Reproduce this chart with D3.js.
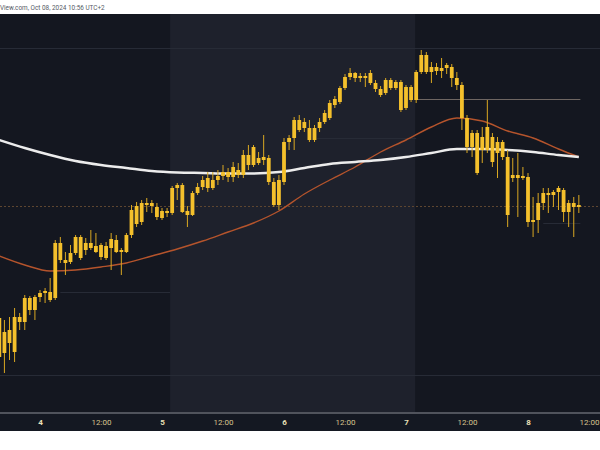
<!DOCTYPE html>
<html><head><meta charset="utf-8">
<script src="https://cdn.jsdelivr.net/npm/d3@7"></script>
<style>html,body{margin:0;padding:0;background:#fff;}svg{display:block}</style>
</head><body><svg id="c" width="600" height="450"></svg>
<script>
// hourly candles, index 0 = Oct 3 16:00 (UTC+2)
const opens  = [60930,61180,61070,60980,61330,61280,61520,61400,61530,61570,61580,61520,62070,61900,61880,61970,62130,62000,62070,62040,62050,61920,62020,62100,61980,61980,62150,62440,62280,62470,62440,62430,62320,62390,62370,62620,62650,62390,62350,62570,62630,62720,62620,62700,62740,62780,62730,62800,62750,62950,62850,62920,62900,62920,62680,62450,62680,63080,63120,63300,63220,63220,63100,63220,63280,63320,63450,63480,63620,63730,63770,63720,63740,63770,63670,63610,63570,63700,63620,63680,63420,63630,63500,63780,63950,63780,63830,63790,63820,63830,63720,63650,63320,63030,63170,63000,63000,63130,62970,63080,62930,62720,62750,62720,62730,62280,62300,62470,62570,62550,62580,62600,62380,62470,62430];
const highs  = [61450,61300,61330,61420,61370,61550,61540,61550,61600,61620,61720,62100,62130,61980,62050,62150,62150,62120,62200,62170,62070,62080,62170,62150,62020,62170,62450,62480,62500,62520,62500,62470,62420,62420,62640,62670,62670,62440,62590,62670,62740,62780,62780,62800,62850,62820,62880,62870,63000,63050,63050,62980,63150,62950,62720,62750,63120,63150,63330,63350,63320,63300,63250,63320,63400,63500,63540,63640,63760,63820,63780,63770,63770,63800,63700,63640,63720,63720,63700,63700,63650,63650,63800,64000,63980,63880,63870,63920,63870,63860,63780,63680,63350,63200,63200,63230,63500,63170,63130,63100,63000,62920,62970,62830,62770,62530,62570,62620,62620,62600,62640,62620,62500,62530,62550];
const lows   = [60880,60770,60900,60880,61200,61200,61350,61300,61480,61470,61480,61500,61870,61750,61860,61950,61900,61950,62000,61970,61900,61900,61800,61970,61750,61970,62120,62230,62250,62380,62370,62300,62300,62330,62350,62500,62370,62230,62340,62550,62600,62580,62600,62650,62700,62680,62680,62720,62720,62800,62830,62850,62850,62650,62430,62400,62650,63000,63000,63180,63180,63080,63080,63180,63260,63300,63420,63460,63600,63700,63680,63680,63630,63650,63580,63530,63550,63600,63600,63380,63400,63480,63470,63760,63760,63670,63750,63720,63760,63630,63600,63200,62970,62930,62750,62870,62970,62830,62720,62900,62230,62680,62330,62700,62230,62130,62170,62400,62370,62430,62400,62280,62230,62130,62370];
const closes = [61320,60970,61200,61330,61280,61520,61400,61530,61570,61590,61500,62070,61900,61870,61970,62130,61920,62070,62020,61980,61930,62040,62110,61980,62000,62150,62400,62260,62470,62450,62470,62330,62390,62370,62620,62650,62380,62350,62570,62630,62700,62620,62700,62740,62780,62730,62830,62750,62950,62850,63030,62870,62930,62680,62450,62700,63080,63120,63300,63200,63280,63100,63220,63280,63370,63470,63510,63620,63730,63770,63720,63740,63720,63670,63610,63550,63700,63620,63680,63400,63630,63500,63780,63950,63780,63830,63790,63820,63850,63720,63650,63320,63030,63170,62770,63130,63230,62880,63080,62930,62350,62750,62720,62740,62280,62300,62470,62570,62550,62580,62620,62380,62470,62430,62450];

// moving averages read at every 5th candle
const maIdx    = [0,5,10,15,20,25,30,35,40,45,50,55,60,65,70,75,80,85,90,95,100,105,110,114];
const maWhite  = [63100,63020,62950,62890,62850,62820,62790,62775,62770,62765,62765,62780,62820,62860,62880,62900,62930,62970,63010,63010,63000,62980,62950,62930];
const maOrange = [61940,61850,61790,61800,61830,61870,61940,62010,62090,62180,62270,62390,62560,62700,62830,62980,63100,63230,63320,63290,63190,63120,63010,62930];

// horizontal levels
const levelPrice = [64020, 63510, 63120, 62440, 62270, 61580, 60750];
const levelFrom  = [-2, 81.8, 62.5, -2, 107, 12, -2];
const levelTo    = [120, 114.3, 82, 120, 114.3, 33.6, 120];
const levelKind  = ["faint","gray","faint","orange","faint","faint","faint"];

// x axis ticks
const tickIdx    = [8,20,32,44,56,68,80,92,104,116];
const tickLabels = ["4","12:00","5","12:00","6","12:00","7","12:00","8","12:00"];
const shade = [33.6, 81.8];

const svg = d3.select("#c");
const W = 600, plotTop = 14, plotBottom = 412;
const x = d3.scaleLinear().domain([8, 104]).range([40, 528]);
const y = d3.scaleLinear().domain([60380, 64360]).range([412, 14]);

svg.append("rect").attr("x",0).attr("y",0).attr("width",W).attr("height",450).attr("fill","#ffffff");
svg.append("rect").attr("x",0).attr("y",plotTop).attr("width",W).attr("height",plotBottom-plotTop).attr("fill","#141720");
svg.append("rect").attr("x",x(shade[0])).attr("y",plotTop).attr("width",x(shade[1])-x(shade[0])).attr("height",plotBottom-plotTop).attr("fill","#1e212c");

svg.append("text").attr("x",0).attr("y",10).attr("font-family","Roboto, sans-serif").attr("font-size",6.4).attr("fill","#555a66")
  .text("View.com, Oct 08, 2024 10:56 UTC+2");

const g = svg.append("g");
const lvCol = {faint:"#272b36", gray:"#6e6662", orange:"#5e4630"};
levelPrice.forEach((p,i)=>{
  g.append("line").attr("x1",Math.max(0,x(levelFrom[i]))).attr("x2",Math.min(W,x(levelTo[i])))
   .attr("y1",Math.round(y(p))+0.5).attr("y2",Math.round(y(p))+0.5)
   .attr("stroke",lvCol[levelKind[i]]).attr("stroke-width",1)
   .attr("stroke-dasharray", levelKind[i]==="orange" ? "2,2" : null);
});

const line = d3.line().x((d,i)=>x(maIdx[i])).y(d=>y(d)).curve(d3.curveMonotoneX);
g.append("path").datum(maOrange).attr("d",line).attr("fill","none").attr("stroke","#b5542c").attr("stroke-width",1.4);
g.append("path").datum(maWhite).attr("d",line).attr("fill","none").attr("stroke","#ececec").attr("stroke-width",2.5);

const bw = 3.8;
const cg = svg.append("g");
opens.forEach((o,i)=>{
  const cx = x(i);
  cg.append("line").attr("x1",cx).attr("x2",cx).attr("y1",y(highs[i])).attr("y2",y(lows[i]))
    .attr("stroke","#d9a822").attr("stroke-width",1);
  const t = y(Math.max(o,closes[i])), b = y(Math.min(o,closes[i]));
  cg.append("rect").attr("x",cx-bw/2).attr("y",t).attr("width",bw).attr("height",Math.max(1.5,b-t))
    .attr("fill","#f4c02c");
});

// axis strip
svg.append("rect").attr("x",0).attr("y",412).attr("width",W).attr("height",2).attr("fill","#50535c");
svg.append("rect").attr("x",0).attr("y",414).attr("width",W).attr("height",17).attr("fill","#141822");
const ax = svg.append("g").attr("transform","translate(0,416)")
  .call(d3.axisBottom(x).tickValues(tickIdx).tickFormat((d,i)=>tickLabels[i]).tickSize(0));
ax.select(".domain").remove();
ax.selectAll("text").attr("font-family","Roboto, sans-serif").attr("font-size",8)
  .attr("fill",(d,i)=>tickLabels[i]==="12:00" ? "#d8c48e" : "#ebe0b8")
  .attr("font-weight",(d,i)=>tickLabels[i]==="12:00" ? 400 : 700)
  .attr("dy","0.35em").attr("y",6);
</script></body></html>
